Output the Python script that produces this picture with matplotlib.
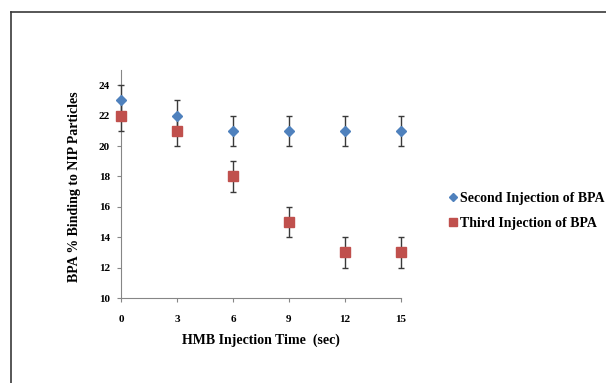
import matplotlib
matplotlib.use("Agg")
import matplotlib.pyplot as plt
from matplotlib.lines import Line2D

times = [0, 3, 6, 9, 12, 15]
second_injection = [23, 22, 21, 21, 21, 21]
second_err = [1, 1, 1, 1, 1, 1]
third_injection = [22, 21, 18, 15, 13, 13]
third_err = [1, 1, 1, 1, 1, 1]
y_ticks = [10, 12, 14, 16, 18, 20, 22, 24]
series_names = ["Second Injection of BPA", "Third Injection of BPA"]

plt.rcParams['font.family'] = ['Liberation Serif', 'DejaVu Serif']
plt.rcParams['font.weight'] = 'bold'

W, H = 606, 383
fig = plt.figure(figsize=(W / 100, H / 100), dpi=100)
ax = fig.add_axes([121 / W, 1 - 298 / H, 280 / W, 228 / H])

blue = '#4F81BD'
red = '#C0504D'
ecol = '#3a3a3a'

for vals, errs, mk, ms, col, name in [
        (second_injection, second_err, 'D', 5.5, blue, series_names[0]),
        (third_injection, third_err, 's', 6.8, red, series_names[1])]:
    cont = ax.errorbar(times, vals, yerr=errs, fmt=mk, color=col, ms=ms,
                       ecolor=ecol, elinewidth=1.0, capsize=2.2, capthick=1.0,
                       label=name, zorder=3)
    for art in cont.lines[0:1] + tuple(cont.lines[1]) + tuple(cont.lines[2]):
        if art is not None:
            art.set_clip_on(False)

ax.set_xlim(0, 15)
ax.set_ylim(10, 25)
ax.set_xticks(times)
ax.set_yticks(y_ticks)
ax.tick_params(axis='both', labelsize=8, length=3, color='#868686', width=0.8)
ax.tick_params(axis='x', pad=9)
ax.tick_params(axis='y', pad=5)
for lab in ax.get_xticklabels() + ax.get_yticklabels():
    lab.set_fontweight('bold')
for s in ['top', 'right']:
    ax.spines[s].set_visible(False)
for s in ['left', 'bottom']:
    ax.spines[s].set_color('#868686')
    ax.spines[s].set_linewidth(0.8)

ax.set_xlabel('HMB Injection Time  (sec)', fontsize=10, fontweight='bold')
ax.set_ylabel('BPA % Binding to NIP Particles', fontsize=10, fontweight='bold')
ax.xaxis.set_label_coords(0.5, -(334 - 298) / 228)
ax.yaxis.set_label_coords((81 - 121) / 280, 0.49)

handles = [
    Line2D([], [], marker='D', color=blue, ls='none', ms=4),
    Line2D([], [], marker='s', color=red, ls='none', ms=6),
]
fig.legend(handles, series_names, loc='center left',
           bbox_to_anchor=(448 / W, 1 - 211 / H), frameon=False,
           prop={'family': 'Liberation Serif', 'weight': 'bold', 'size': 10},
           handlelength=0.7, handletextpad=0.15, labelspacing=0.85,
           borderaxespad=0, borderpad=0)

# outer frame (left and top edges)
fig.add_artist(Line2D([11 / W, 11 / W], [0, 1 - 12 / H], color='#3a3a3a', lw=1.2,
                      transform=fig.transFigure))
fig.add_artist(Line2D([11 / W, 1], [1 - 12 / H, 1 - 12 / H], color='#3a3a3a', lw=1.2,
                      transform=fig.transFigure))

fig.savefig('out.png', dpi=100)
